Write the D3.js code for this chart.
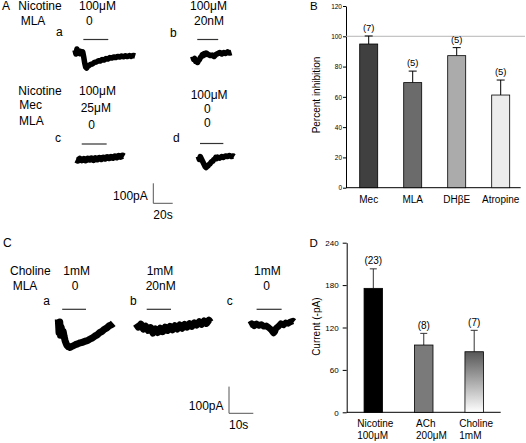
<!DOCTYPE html>
<html><head><meta charset="utf-8">
<script src="https://cdn.jsdelivr.net/npm/d3@7"></script>
<style>
body{margin:0;background:#fff}
svg{display:block}
text{font-family:'Liberation Sans',Arial,Helvetica,sans-serif;fill:#000}
</style>
</head><body>
<svg id="fig" width="526" height="443"></svg>
<script>
// ---------------- DATA ----------------
// Panel B: percent inhibition of nicotine current
const bCategories = ["Mec", "MLA", "DHβE", "Atropine"];
const bValues = [94.9, 69.4, 87.2, 61.2];
const bErrors = [5.3, 7.6, 5.3, 9.9];
const bCounts = ["(7)", "(5)", "(5)", "(5)"];
const bTicks = [0, 20, 40, 60, 80, 100, 120];
const bReference = 100;
const bYLabel = "Percent  inhibition";

// Panel D: current amplitude (-pA)
const dCategories = ["Nicotine", "ACh", "Choline"];
const dDoses = ["100μM", "200μM", "1mM"];
const dValues = [175.4, 95.2, 85.7];
const dErrors = [27.6, 16.5, 30.3];
const dCounts = ["(23)", "(8)", "(7)"];
const dTicks = [0, 60, 120, 180, 240];
const dYLabel = "Current (-pA)";

// Current traces: [time (s), current (pA)]
const traceAa = [[0,10],[1,-10],[2,15],[3,-5],[4,5],[5,-8],[6,3],[7,-5],[8,0],[9,-25],[10,-55],[11,-75],[12,-80],[13,-72],[14,-70],[16,-62],[18,-60],[20,-52],[22,-50],[24,-44],[26,-45],[28,-38],[30,-40],[32,-33],[34,-35],[36,-28],[38,-30],[40,-25],[42,-28],[44,-22],[46,-25],[48,-20],[50,-24],[52,-19],[54,-23],[56,-18],[58,-22],[60,-17],[62,-20]];
const traceAb = [[0,5],[1,-10],[2,-5],[3,-20],[4,-15],[5,-25],[6,-15],[7,-10],[8,0],[9,5],[10,15],[11,10],[12,20],[13,15],[14,22],[16,15],[18,10],[20,12],[22,5],[24,15],[26,20],[28,25],[30,18],[32,25],[34,20],[36,28],[38,22],[40,25]];
const traceAc = [[0,0],[2,-5],[4,3],[6,-3],[8,2],[10,-4],[12,4],[14,0],[16,5],[18,-2],[20,6],[22,1],[24,7],[26,3],[28,9],[30,5],[32,11],[34,7],[36,12],[38,9],[40,15],[42,11],[44,17],[46,14],[48,19],[49.5,15]];
const traceAd = [[0,5],[1,-10],[2,5],[3,-5],[4,-15],[5,-25],[6,-35],[7,-45],[8,-50],[9,-45],[10,-42],[11,-35],[12,-32],[13,-25],[14,-20],[15,-18],[16,-10],[17,-8],[18,0],[19,-5],[20,2],[22,-3],[24,5],[26,0],[28,8],[30,5],[32,10],[34,5],[36,8],[37,5]];
const traceCa = [[0,10],[0.3,-40],[0.6,0],[0.9,-50],[1.2,-20],[1.6,-45],[2.0,-35],[2.4,-55],[2.8,-70],[3.2,-80],[3.6,-88],[4.2,-93],[4.8,-95],[5.4,-92],[6,-90],[7,-85],[8,-82],[9,-78],[10,-76],[11,-72],[12,-70],[13,-64],[14,-60],[15,-53],[16,-48],[17,-40],[18,-35],[19,-27],[20,-22],[21,-14],[22,-10],[22.6,-5]];
const traceCb = [[0,5],[1,-8],[2,3],[3,-15],[4,-5],[5,-20],[6,-10],[7,-30],[8,-15],[9,-28],[10,-12],[11,-25],[12,-8],[13,-20],[14,-5],[15,-18],[16,-3],[17,-15],[18,0],[19,-12],[20,2],[21,-8],[22,5],[23,-5],[24,8],[25,0],[26,12],[27,3],[28,15],[29,6],[30,18],[30.7,10]];
const traceCc = [[0,0],[1,5],[2,-3],[3,4],[4,-2],[5,2],[6,-5],[7,-3],[8,-10],[9,-18],[10,-30],[10.5,-25],[11,-12],[12,-5],[13,5],[14,0],[15,8],[16,6],[17,12],[18,15],[18.4,12]];

// Drug application periods [start s, end s]
const drugAa = [8.6, 34.3];
const drugAb = [4.7, 26.3];
const drugAc = [5.9, 31.6];
const drugAd = [1.75, 25.8];
const drugCa = [1.6, 11.4];
const drugCb = [4.4, 14.4];
const drugCc = [3.0, 13.3];

// Scale bars
const scaleA = {pA: 100, s: 20, labelI: "100pA", labelT: "20s"};
const scaleC = {pA: 100, s: 10, labelI: "100pA", labelT: "10s"};

// ---------------- DRAWING ----------------
const svg = d3.select("#fig");
svg.append("rect").attr("width", 526).attr("height", 443).attr("fill", "#fff");

function txt(x, y, s, size, anchor) {
  return svg.append("text").attr("x", x).attr("y", y).attr("font-size", size)
    .attr("text-anchor", anchor || "start").text(s);
}

// calibration (px per s, px per pA) for panel groups
const calA = {pxs: 0.97, pxa: 0.2};
const calC = {pxs: 2.43, pxa: 0.267};

function drawTrace(data, drug, cal, x0, y0, barY, width) {
  const xs = d3.scaleLinear().domain([0, 1]).range([x0, x0 + cal.pxs]);
  const ys = d3.scaleLinear().domain([0, 1]).range([y0, y0 - cal.pxa]);
  const line = d3.line().x(d => xs(d[0])).y(d => ys(d[1]));
  svg.append("path").datum(data).attr("d", line)
    .attr("fill", "none").attr("stroke", "#000").attr("stroke-width", width)
    .attr("stroke-linejoin", "round").attr("stroke-linecap", "butt");
  svg.append("line").attr("x1", xs(drug[0])).attr("x2", xs(drug[1]))
    .attr("y1", barY).attr("y2", barY).attr("stroke", "#333").attr("stroke-width", 1.2);
}

function drawScaleBar(sc, cal, x0, yBottom) {
  const xs = d3.scaleLinear().domain([0, 1]).range([x0, x0 + cal.pxs]);
  const ys = d3.scaleLinear().domain([0, 1]).range([yBottom, yBottom - cal.pxa]);
  svg.append("path")
    .attr("d", `M${xs(0)},${ys(sc.pA)}V${ys(0)}H${xs(sc.s)}`)
    .attr("fill", "none").attr("stroke", "#555").attr("stroke-width", 1);
  txt(x0 - 5.5, yBottom - 3.5, sc.labelI, 12, "end");
  txt(x0, yBottom + 15.5, sc.labelT, 12);
}

// ----- Panel A -----
txt(2, 10, "A", 12);
txt(18.3, 10, "Nicotine", 12);
txt(79, 10, "100μM", 12);
txt(190, 10, "100μM", 12);
txt(20.7, 25.3, "MLA", 12);
txt(86, 25.3, "0", 12);
txt(194, 25.3, "20nM", 12);
txt(56, 35.7, "a", 12);
txt(170, 36.7, "b", 12);
drawTrace(traceAa, drugAa, calA, 75, 52, 39.5, 5.5);
drawTrace(traceAb, drugAb, calA, 192.7, 57.5, 39.5, 5.5);

txt(18.3, 95.3, "Nicotine", 12);
txt(79, 95.3, "100μM", 12);
txt(190.7, 98.5, "100μM", 12);
txt(19.3, 109, "Mec", 12);
txt(80.7, 111.5, "25μM", 12);
txt(204, 112.5, "0", 12);
txt(19, 125, "MLA", 12);
txt(88.3, 129, "0", 12);
txt(204, 126.7, "0", 12);
txt(55, 141.7, "c", 12);
txt(173, 141.7, "d", 12);
drawTrace(traceAc, drugAc, calA, 76, 159.5, 144, 6.5);
drawTrace(traceAd, drugAd, calA, 198.3, 157.5, 143.5, 5.5);
drawScaleBar(scaleA, calA, 153.3, 203.3);

// ----- Panel C -----
txt(3, 247, "C", 12);
txt(10, 274.5, "Choline", 12);
txt(63.3, 274.5, "1mM", 12);
txt(146.7, 274.5, "1mM", 12);
txt(254, 274.5, "1mM", 12);
txt(12.7, 290, "MLA", 12);
txt(71.7, 290, "0", 12);
txt(145.7, 290, "20nM", 12);
txt(263.3, 290, "0", 12);
txt(43.3, 305, "a", 12);
txt(130, 305, "b", 12);
txt(226.7, 305, "c", 12);
drawTrace(traceCa, drugCa, calC, 58.3, 322, 309.3, 7);
drawTrace(traceCb, drugCb, calC, 136, 325, 309.3, 7);
drawTrace(traceCc, drugCc, calC, 249.3, 325, 309.3, 6.5);
drawScaleBar(scaleC, calC, 229, 413.3);

// ----- Panel B -----
{
  const y = d3.scaleLinear().domain([0, 120]).range([187.7, 6]);
  const x = d3.scalePoint().domain(bCategories).range([368.7, 500.7]);
  const bw = 18;
  const colors = ["#404040", "#6b6b6b", "#ababab", "#ececec"];
  const ax = svg.append("g").attr("transform", "translate(346,0)")
    .call(d3.axisLeft(y).tickValues(bTicks).tickSize(3).tickPadding(1).tickSizeOuter(0));
  ax.attr("font-family", null).attr("font-size", null);
  ax.selectAll("text").attr("font-size", 6.5).attr("dy", "0.34em");
  ax.selectAll("line,path").attr("stroke", "#000");
  svg.append("line").attr("x1", 346).attr("x2", 525).attr("y1", y(bReference)).attr("y2", y(bReference))
    .attr("stroke", "#b5b5b5").attr("stroke-width", 1);
  svg.append("line").attr("x1", 346).attr("x2", 520.7).attr("y1", y(0)).attr("y2", y(0))
    .attr("stroke", "#000").attr("stroke-width", 1);
  bCategories.forEach((c, i) => {
    const cx = x(c);
    const top = y(bValues[i] + bErrors[i]);
    svg.append("line").attr("x1", cx).attr("x2", cx).attr("y1", y(bValues[i])).attr("y2", top)
      .attr("stroke", "#000").attr("stroke-width", 1);
    svg.append("line").attr("x1", cx - 4).attr("x2", cx + 4).attr("y1", top).attr("y2", top)
      .attr("stroke", "#000").attr("stroke-width", 1);
    svg.append("rect").attr("x", cx - bw / 2).attr("y", y(bValues[i]))
      .attr("width", bw).attr("height", y(0) - y(bValues[i]))
      .attr("fill", colors[i]).attr("stroke", "#000").attr("stroke-width", 0.8);
    txt(cx, top - 5, bCounts[i], 9.5, "middle");
    txt(cx, 203, c, 10, "middle");
  });
  svg.append("text").attr("transform", "translate(320,95) rotate(-90)")
    .attr("text-anchor", "middle").attr("font-size", 10).text(bYLabel);
  txt(310, 10, "B", 11.5);
}

// ----- Panel D -----
{
  const y = d3.scaleLinear().domain([0, 240]).range([412.3, 242.7]);
  const x = d3.scalePoint().domain(dCategories).range([373.3, 474.2]);
  const bw = 18.5;
  const defs = svg.append("defs");
  const grad = defs.append("linearGradient").attr("id", "cholGrad")
    .attr("x1", 0).attr("y1", 0).attr("x2", 0).attr("y2", 1);
  grad.append("stop").attr("offset", "0%").attr("stop-color", "#575757");
  grad.append("stop").attr("offset", "100%").attr("stop-color", "#ffffff");
  const fills = ["#000000", "#7a7a7a", "url(#cholGrad)"];
  const ax = svg.append("g").attr("transform", "translate(346.7,0)")
    .call(d3.axisLeft(y).tickValues(dTicks).tickSize(4).tickPadding(4).tickSizeOuter(0));
  ax.attr("font-family", null).attr("font-size", null);
  ax.selectAll("text").attr("font-size", 8).attr("dy", "0.34em");
  ax.selectAll("line,path").attr("stroke", "#000");
  svg.append("line").attr("x1", 346.7).attr("x2", 500.7).attr("y1", y(0)).attr("y2", y(0))
    .attr("stroke", "#000").attr("stroke-width", 1);
  dCategories.forEach((c, i) => {
    const cx = x(c);
    const top = y(dValues[i] + dErrors[i]);
    svg.append("line").attr("x1", cx).attr("x2", cx).attr("y1", y(dValues[i])).attr("y2", top)
      .attr("stroke", "#333").attr("stroke-width", 1);
    svg.append("line").attr("x1", cx - 3.5).attr("x2", cx + 3.5).attr("y1", top).attr("y2", top)
      .attr("stroke", "#333").attr("stroke-width", 1);
    svg.append("rect").attr("x", cx - bw / 2).attr("y", y(dValues[i]))
      .attr("width", bw).attr("height", y(0) - y(dValues[i]))
      .attr("fill", fills[i]).attr("stroke", "#000").attr("stroke-width", 0.8);
    txt(cx, top - 4.5, dCounts[i], 10, "middle");
    const t1 = txt(cx + 2, 427, c, 10, "middle");
    const w = t1.node().getComputedTextLength();
    txt(cx + 2 - w / 2, 438.5, dDoses[i], 10);
  });
  svg.append("text").attr("transform", "translate(320,326.7) rotate(-90)")
    .attr("text-anchor", "middle").attr("font-size", 10).text(dYLabel);
  txt(309.5, 247, "D", 11.5);
}
</script>
</body></html>
